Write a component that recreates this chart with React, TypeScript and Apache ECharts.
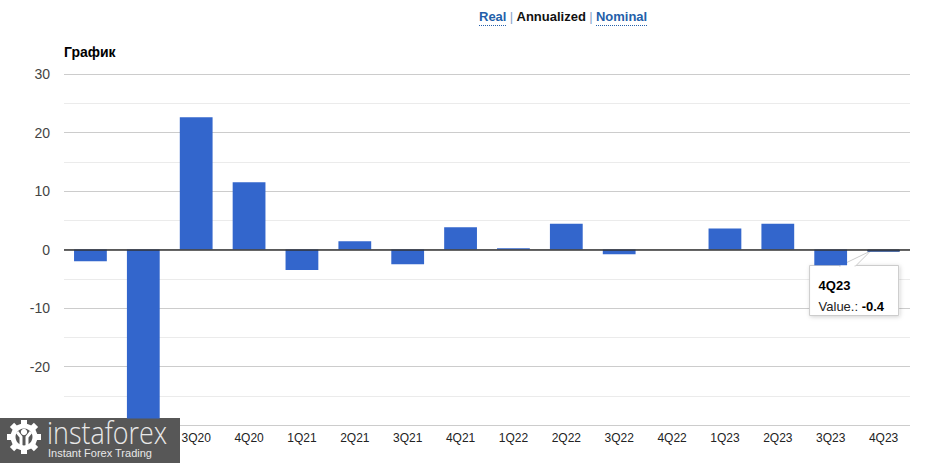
import React, { useEffect, useRef } from "react";
import * as echarts from "echarts";

const categories = ["1Q20", "2Q20", "3Q20", "4Q20", "1Q21", "2Q21", "3Q21", "4Q21", "1Q22", "2Q22", "3Q22", "4Q22", "1Q23", "2Q23", "3Q23", "4Q23"];
const values = [-2.0, -28.9, 22.6, 11.5, -3.5, 1.4, -2.5, 3.8, 0.2, 4.4, -0.8, 0.0, 3.6, 4.4, -2.7, -0.4];
const yTicks = { min: -30, max: 30, interval: 10 };
const title = "График";
const tooltipIndex = 15;
// labels hidden behind the logo in the reference
const hiddenCategoryLabels = 2;

const FONT = "'Liberation Sans', Arial, sans-serif";

export default function App() {
  const ref = useRef<HTMLDivElement>(null);
  useEffect(() => {
    if (!ref.current) return;
    const chart = echarts.init(ref.current, null, { renderer: "svg" });
    const option: any = {
      animation: false,
      textStyle: { fontFamily: FONT },
      grid: { left: 64, right: 24, top: 74, bottom: 38, containLabel: false },
      title: {
        text: title,
        left: 59,
        top: 40,
        textStyle: { fontSize: 14, fontWeight: "bold", color: "#000", fontFamily: FONT },
      },
      xAxis: {
        type: "category",
        data: categories,
        axisLine: { show: false },
        axisTick: { show: false },
        axisLabel: {
          color: "#222",
          fontSize: 12,
          margin: 7,
          fontFamily: FONT,
          interval: (i: number) => i >= hiddenCategoryLabels,
        },
      },
      yAxis: {
        type: "value",
        min: yTicks.min,
        max: yTicks.max,
        interval: yTicks.interval,
        axisLine: { show: false },
        axisTick: { show: false },
        axisLabel: {
          color: "#444",
          fontSize: 14,
          margin: 14,
          fontFamily: FONT,
          formatter: (v: number) => (v === yTicks.min ? "" : String(v)),
        },
        splitLine: { lineStyle: { color: "#cccccc", width: 1 } },
        minorTick: { show: false, splitNumber: 2 },
        minorSplitLine: { show: true, lineStyle: { color: "#ebebeb", width: 1 } },
      },
      series: [
        {
          type: "bar",
          data: values.map((v, i) =>
            i === tooltipIndex
              ? { value: v, itemStyle: { color: "#3366cc", borderColor: "#3a5a94", borderWidth: 1 } }
              : v
          ),
          barWidth: "62%",
          itemStyle: { color: "#3366cc" },
          markLine: {
            silent: true,
            symbol: "none",
            label: { show: false },
            lineStyle: { color: "#333", width: 1.5, type: "solid" },
            data: [{ yAxis: 0 }],
            z: 5,
          },
        },
      ],
    };
    chart.setOption(option);

    const pt = chart.convertToPixel({ xAxisIndex: 0, yAxisIndex: 0 }, [tooltipIndex, 0]) as number[];
    const bx = pt[0] - 74;
    const by = pt[1] + 16;
    const bw = 89;
    const bh = 50;

    const graphics: any[] = [
      // top links
      {
        type: "text",
        left: 479,
        top: 10,
        style: {
          text: "{b|Real} {s||} {k|Annualized} {s||} {b|Nominal}",
          rich: {
            b: { fill: "#245faa", fontSize: 13, fontWeight: "bold", fontFamily: FONT },
            k: { fill: "#111", fontSize: 13, fontWeight: "bold", fontFamily: FONT },
            s: { fill: "#8aa4c8", fontSize: 13, fontFamily: FONT },
          },
        },
      },
      {
        type: "line",
        shape: { x1: 479, y1: 25.5, x2: 506, y2: 25.5 },
        style: { stroke: "#245faa", lineWidth: 1, lineDash: [1, 1] },
      },
      {
        type: "line",
        shape: { x1: 596, y1: 25.5, x2: 647, y2: 25.5 },
        style: { stroke: "#245faa", lineWidth: 1, lineDash: [1, 1] },
      },
      // tooltip callout
      {
        type: "group",
        z: 100,
        children: [
          {
            type: "rect",
            shape: { x: bx, y: by, width: bw, height: bh },
            style: { fill: "#fff", stroke: "#cccccc", lineWidth: 1, shadowBlur: 4, shadowColor: "rgba(0,0,0,0.18)", shadowOffsetX: 1, shadowOffsetY: 1 },
          },
          {
            type: "polygon",
            shape: { points: [[bx + 30, by + 0.5], [bx + 46, by + 0.5], [pt[0] - 13, pt[1] + 1.5]] },
            style: { fill: "#fff", stroke: "#cccccc", lineWidth: 1 },
          },
          {
            type: "line",
            shape: { x1: bx + 31, y1: by + 0.5, x2: bx + 45, y2: by + 0.5 },
            style: { stroke: "#fff", lineWidth: 2 },
          },
          {
            type: "text",
            x: bx + 9,
            y: by + 9,
            style: {
              text: "{t|" + categories[tooltipIndex] + "}\n{l|Value.: }{v|" + values[tooltipIndex].toFixed(1) + "}",
              rich: {
                t: { fill: "#000", fontSize: 13, fontWeight: "bold", fontFamily: FONT, lineHeight: 21 },
                l: { fill: "#222", fontSize: 13, fontFamily: FONT, lineHeight: 21 },
                v: { fill: "#000", fontSize: 13, fontWeight: "bold", fontFamily: FONT, lineHeight: 21 },
              },
            },
          },
        ],
      },
      // logo
      {
        type: "group",
        z: 200,
        children: [
          { type: "rect", shape: { x: 0, y: 418, width: 180, height: 45 }, style: { fill: "#575757" } },
          ...Array.from({ length: 8 }).map((_, k) => ({
            type: "rect",
            x: 24,
            y: 437,
            rotation: (k * Math.PI) / 4,
            shape: { x: -3, y: -17, width: 6, height: 6 },
            style: { fill: "#fff" },
          })),
          { type: "ring", shape: { cx: 24, cy: 437, r: 13.5, r0: 8.5 }, style: { fill: "#fff" } },
          { type: "circle", shape: { cx: 24, cy: 432, r: 3.2 }, style: { fill: "#fff" } },
          {
            type: "polyline",
            shape: { points: [[17, 432], [21, 437], [21, 449]] },
            style: { stroke: "#fff", lineWidth: 3, fill: null },
          },
          {
            type: "polyline",
            shape: { points: [[31, 432], [27, 437], [27, 449]] },
            style: { stroke: "#fff", lineWidth: 3, fill: null },
          },
          {
            type: "text",
            x: 47,
            y: 416,
            scaleX: 0.84,
            style: { text: "instaforex", fill: "#e8e8e8", fontSize: 32, fontFamily: "'Open Sans', 'DejaVu Sans', sans-serif", fontWeight: 300 },
          },
          {
            type: "text",
            x: 48,
            y: 447,
            style: { text: "Instant Forex Trading", fill: "#e8e8e8", fontSize: 11, fontFamily: FONT },
          },
        ],
      },
    ];
    chart.setOption({ graphic: graphics });

    return () => chart.dispose();
  }, []);
  return <div ref={ref} style={{ width: 934, height: 463, position: "absolute", left: 0, top: 0 }} />;
}
